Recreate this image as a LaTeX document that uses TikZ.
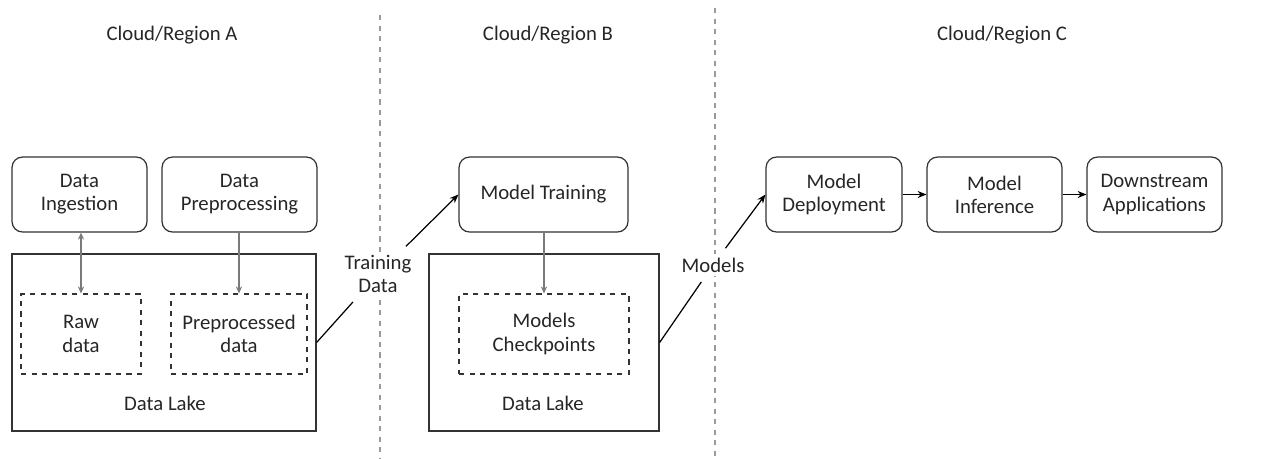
\documentclass[tikz,border=0pt]{standalone}
\usepackage{fontspec}
\setmainfont{Carlito}
\usetikzlibrary{positioning,arrows.meta,calc}

\definecolor{boxline}{HTML}{333333}
\definecolor{innerline}{HTML}{7A7A7A}
\definecolor{sepline}{HTML}{9A9A9A}

\tikzset{
  stage/.style={draw=boxline, line width=0.7pt, rounded corners=6pt, align=center,
    minimum height=1.5cm, inner sep=2pt},
  lake/.style={draw=boxline, line width=0.7pt, minimum height=3.54cm},
  store/.style={draw=boxline, line width=0.6pt, dashed, align=center, minimum height=1.6cm},
  flow/.style={line width=0.7pt, -{Stealth[length=5pt,width=4pt]}},
  inflow/.style={draw=innerline, line width=0.6pt, -{Stealth[length=4pt,width=3.5pt]}},
  divider/.style={draw=sepline, line width=0.6pt, dashed},
  tag/.style={fill=white, align=center, inner sep=2pt}
}

\begin{document}
\begin{tikzpicture}[x=0.02cm, y=-0.02cm, font=\fontsize{11.8}{13.2}\selectfont, text=black!85]
        \useasboundingbox (0,0) rectangle (1266,458);

        % Separators
        \draw[divider] (380,15) -- (380,458);
        \draw[divider] (715,8) -- (715,458);

        % Titles
        \node (titleA) at (172,35) {Cloud/Region A};
        \node (titleB) at (548,35) {Cloud/Region B};
        \node (titleC) at (1002,35) {Cloud/Region C};

        % Region A
        \node[lake, minimum width=6.08cm] (lakeA) at (164,342.5) {};
        \node (lakeAtxt) at (165,403) {Data Lake};
        \node[stage, minimum width=2.7cm] (ingest) at (79.5,194.5) {Data\\Ingestion};
        \node[stage, minimum width=3.1cm] (prep) at (239.5,194.5) {Data\\Preprocessing};
        \node[store, minimum width=2.4cm] (raw) at (81,334) {Raw\\data};
        \node[store, minimum width=2.72cm] (prepd) at (239,334) {Preprocessed\\data};
        \draw[inflow, {Stealth[length=4pt,width=3.5pt]}-{Stealth[length=4pt,width=3.5pt]}] (raw.north |- ingest.south) -- (raw.north);
        \draw[inflow] (prepd.north |- prep.south) -- (prepd.north);

        % Region B
        \node[lake, minimum width=4.6cm] (lakeB) at (544,342.5) {};
        \node (lakeBtxt) at (543,403) {Data Lake};
        \node[stage, minimum width=3.38cm] (train) at (543.5,194.5) {Model Training};
        \node[store, minimum width=3.4cm] (ckpt) at (544,334) {Models\\Checkpoints};
        \draw[inflow] (ckpt.north |- train.south) -- (ckpt.north);

        % Region C
        \node[stage, minimum width=2.72cm] (deploy) at (834,194.5) {Model\\Deployment};
        \node[stage, minimum width=2.7cm] (infer) at (994.5,194.5) {Model\\Inference};
        \node[stage, minimum width=2.7cm] (apps) at (1154.5,194.5) {Downstream\\Applications};
        \draw[flow] (deploy) -- (infer);
        \draw[flow] (infer) -- (apps);

        % Cross-region transfers
        \node[tag] (tdata) at (378,274) {Training\\Data};
        \node[tag] (models) at (713,265) {Models};
        \draw[line width=0.7pt, shorten >=4pt] (lakeA.east) -- (tdata);
        \draw[flow, shorten <=4pt] (tdata) -- (train.west);
        \draw[line width=0.7pt, shorten >=4pt] (lakeB.east) -- (models);
        \draw[flow, shorten <=4pt] (models) -- (deploy.west);
\end{tikzpicture}
\end{document}
